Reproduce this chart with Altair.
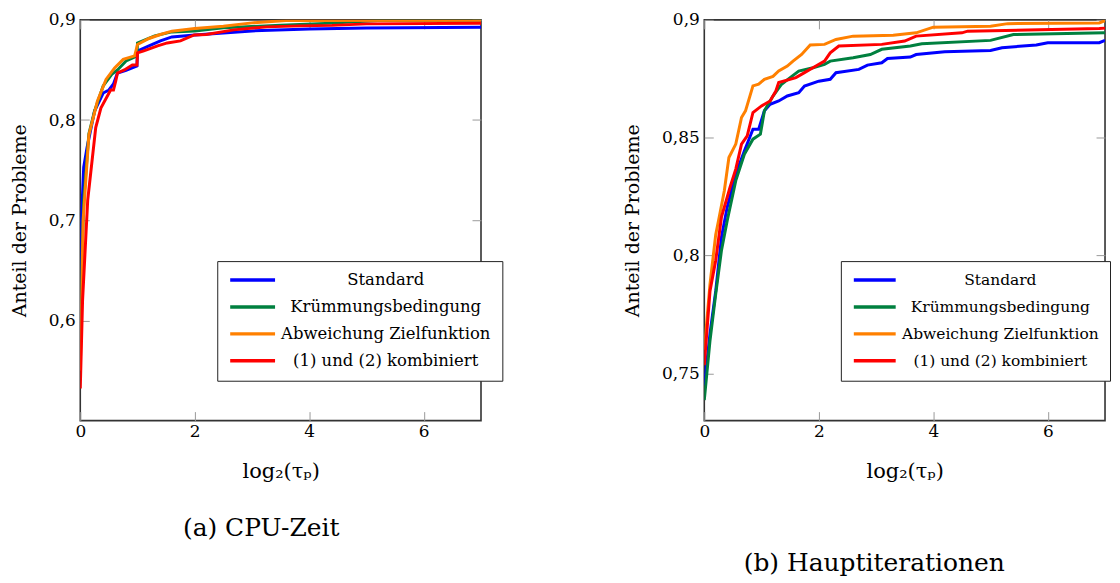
import altair as alt
import pandas as pd

FONT = "DejaVu Serif"
SERIES = ["Standard", "Krümmungsbedingung", "Abweichung Zielfunktion", "(1) und (2) kombiniert"]
COLORS = ["#0000ff", "#00803f", "#ff8000", "#ff0000"]
X_TICKS = [0, 2, 4, 6]

# (a) CPU-Zeit
cpu_std_x = [0, 0.02, 0.06, 0.12, 0.25, 0.4, 0.5, 0.58, 0.65, 0.8, 0.99, 1.0, 1.2, 1.4, 1.6, 2.0, 3.0, 4.0, 5.0, 7.0]
cpu_std_y = [0.60, 0.70, 0.753, 0.773, 0.809, 0.827, 0.830, 0.836, 0.847, 0.8496, 0.854, 0.869, 0.874, 0.879, 0.883, 0.885, 0.889, 0.891, 0.892, 0.8927]
cpu_krum_x = [0, 0.03, 0.06, 0.15, 0.25, 0.4, 0.55, 0.65, 0.8, 0.99, 1.0, 1.3, 1.6, 2.0, 2.5, 3.5, 4.5, 5.2, 7.0]
cpu_krum_y = [0.57, 0.66, 0.72, 0.786, 0.809, 0.834, 0.8456, 0.850, 0.859, 0.864, 0.877, 0.884, 0.888, 0.889, 0.892, 0.8947, 0.897, 0.8993, 0.8995]
cpu_abw_x = [0, 0.03, 0.05, 0.15, 0.3, 0.45, 0.6, 0.75, 0.95, 1.0, 1.2, 1.4, 1.6, 2.0, 2.5, 3.0, 3.6, 7.0]
cpu_abw_y = [0.55, 0.64, 0.70, 0.785, 0.819, 0.8406, 0.852, 0.8605, 0.864, 0.8755, 0.8814, 0.8854, 0.8887, 0.8914, 0.8937, 0.897, 0.8993, 0.8995]
cpu_komb_x = [0, 0.04, 0.13, 0.27, 0.36, 0.53, 0.58, 0.62, 0.65, 0.77, 0.91, 0.99, 1.0, 1.11, 1.23, 1.35, 1.52, 1.75, 1.99, 2.2, 2.68, 3.26, 3.84, 4.4, 5.0, 7.0]
cpu_komb_y = [0.532, 0.62, 0.72, 0.7925, 0.812, 0.83, 0.83, 0.839, 0.847, 0.85, 0.855, 0.855, 0.867, 0.869, 0.8715, 0.874, 0.877, 0.879, 0.885, 0.8855, 0.890, 0.893, 0.894, 0.8945, 0.896, 0.8967]

# (b) Hauptiterationen
it_std_x = [0, 0.1, 0.2, 0.3, 0.4, 0.55, 0.7, 0.85, 0.95, 1.05, 1.15, 1.3, 1.45, 1.65, 1.75, 2.0, 2.2, 2.3, 2.7, 2.85, 3.1, 3.2, 3.6, 3.7, 4.2, 5.0, 5.2, 5.8, 6.0, 6.9, 7.0]
it_std_y = [0.745, 0.767, 0.785, 0.8078, 0.8205, 0.8346, 0.8444, 0.8536, 0.8536, 0.8614, 0.8642, 0.8656, 0.8677, 0.8691, 0.8719, 0.874, 0.8748, 0.8776, 0.879, 0.8808, 0.8818, 0.8836, 0.8842, 0.8853, 0.8865, 0.887, 0.8882, 0.8893, 0.8903, 0.8903, 0.8913]
it_krum_x = [0, 0.1, 0.2, 0.3, 0.4, 0.55, 0.7, 0.85, 0.98, 1.05, 1.2, 1.35, 1.5, 1.65, 1.9, 2.1, 2.2, 2.6, 2.9, 3.1, 3.6, 3.8, 5.0, 5.4, 7.0]
it_krum_y = [0.7387, 0.764, 0.7838, 0.8022, 0.8148, 0.8318, 0.843, 0.8494, 0.8515, 0.8614, 0.8677, 0.8727, 0.8755, 0.8783, 0.8797, 0.8811, 0.8825, 0.8839, 0.8853, 0.8875, 0.8889, 0.8899, 0.8913, 0.8938, 0.8945]
it_abw_x = [0, 0.1, 0.2, 0.25, 0.35, 0.43, 0.55, 0.65, 0.72, 0.85, 0.95, 1.05, 1.2, 1.3, 1.45, 1.55, 1.7, 1.85, 2.1, 2.3, 2.6, 3.3, 3.7, 4.0, 5.0, 5.3, 6.9, 7.0]
it_abw_y = [0.76, 0.788, 0.809, 0.815, 0.8275, 0.8416, 0.8473, 0.8586, 0.8614, 0.872, 0.8727, 0.8748, 0.876, 0.8783, 0.8804, 0.8825, 0.8853, 0.8893, 0.8896, 0.8917, 0.8931, 0.8935, 0.8945, 0.8969, 0.8973, 0.8984, 0.8987, 0.8997]
it_komb_x = [0, 0.1, 0.2, 0.3, 0.45, 0.55, 0.65, 0.75, 0.85, 1.0, 1.15, 1.25, 1.3, 1.6, 1.75, 1.95, 2.1, 2.2, 2.35, 3.1, 3.5, 3.7, 4.5, 4.6, 6.9, 7.0]
it_komb_y = [0.7535, 0.785, 0.798, 0.8163, 0.829, 0.8367, 0.8473, 0.8508, 0.8607, 0.8635, 0.8656, 0.8698, 0.8734, 0.8755, 0.8776, 0.8804, 0.8825, 0.886, 0.8889, 0.8896, 0.891, 0.8931, 0.8945, 0.8952, 0.8963, 0.8965]


def build(pairs):
    rows = []
    for name, (xs, ys) in zip(SERIES, pairs):
        for i, (a, b) in enumerate(zip(xs, ys)):
            rows.append({"series": name, "x": a, "y": b, "i": i})
    return pd.DataFrame(rows)


COMMA = "replace(format(datum.value, '.2~f'), '.', ',')"


def axis_common(**kw):
    base = dict(tickSize=9, tickColor="#9a9a9a", tickWidth=1, domain=False, offset=-9,
                grid=False, labelFont=FONT, labelFontSize=17, labelColor="black",
                labelFlush=False, labelOverlap=False,
                titleFont=FONT, titleFontWeight="normal", titleColor="black")
    base.update(kw)
    return alt.Axis(**base)


def panel(df, ydom, yticks, caption, legx, legy, lab_off, lab_size, sym_size, cap_offset, cap_dx):
    xs = alt.Scale(domain=[0, 7], nice=False, zero=False)
    ys = alt.Scale(domain=ydom, nice=False, zero=False)
    color = alt.Color(
        "series:N",
        scale=alt.Scale(domain=SERIES, range=COLORS),
        legend=alt.Legend(
            title=None, orient="none", legendX=legx, legendY=legy,
            symbolType="stroke", symbolSize=sym_size, symbolStrokeWidth=3.5,
            clipHeight=16, rowPadding=10, labelAlign="center", labelOffset=lab_off,
            labelFont=FONT, labelFontSize=lab_size, labelColor="black", labelLimit=400,
            padding=11, strokeColor="#222222", fillColor="white",
        ),
    )
    lines = alt.Chart(df).mark_line(strokeWidth=3, clip=True).encode(
        x=alt.X("x:Q", scale=xs, axis=axis_common(orient="bottom", values=X_TICKS,
                                                   title="log₂(τₚ)", titleFontSize=21,
                                                   labelPadding=3, titlePadding=21)),
        y=alt.Y("y:Q", scale=ys, axis=axis_common(orient="left", values=yticks, labelExpr=COMMA,
                                                   title="Anteil der Probleme", titleFontSize=19,
                                                   labelPadding=5, titlePadding=19)),
        color=color,
        order="i:Q",
    )
    mirror = alt.Chart(df).mark_line(opacity=0, clip=True).encode(
        x=alt.X("x:Q", scale=xs, axis=axis_common(orient="top", values=X_TICKS, labels=False, title=None)),
        y=alt.Y("y:Q", scale=ys, axis=axis_common(orient="right", values=yticks, labels=False, title=None)),
        detail="series:N",
        order="i:Q",
    )
    return (
        alt.layer(mirror, lines)
        .resolve_axis(x="independent", y="independent")
        .properties(
            width=402, height=402,
            title=alt.TitleParams(text=caption, orient="bottom", anchor="middle", frame="group",
                                  dx=cap_dx, offset=cap_offset, font=FONT, fontSize=25,
                                  fontWeight="normal", color="black", baseline="alphabetic"),
        )
    )


df_cpu = build([(cpu_std_x, cpu_std_y), (cpu_krum_x, cpu_krum_y), (cpu_abw_x, cpu_abw_y), (cpu_komb_x, cpu_komb_y)])
df_it = build([(it_std_x, it_std_y), (it_krum_x, it_krum_y), (it_abw_x, it_abw_y), (it_komb_x, it_komb_y)])

left = panel(df_cpu, [0.5, 0.9], [0.6, 0.7, 0.8, 0.9], "(a) CPU-Zeit",
             137.4, 242, 109, 16.5, 2025, 55, -19.5)
right = panel(df_it, [0.73, 0.9], [0.75, 0.8, 0.85, 0.9], "(b) Hauptiterationen",
              137, 242, 103, 15.5, 1764, 90, -30.5)

chart = (
    alt.hconcat(left, right, spacing=224, bounds="flush",
                padding={"left": 1.5, "top": 1, "right": 0, "bottom": 0})
    .resolve_scale(color="independent")
    .resolve_legend(color="independent")
    .configure_view(stroke="#333333", strokeWidth=1.6)
)

chart.save("out.html", embed_options={"renderer": "svg", "actions": False})
